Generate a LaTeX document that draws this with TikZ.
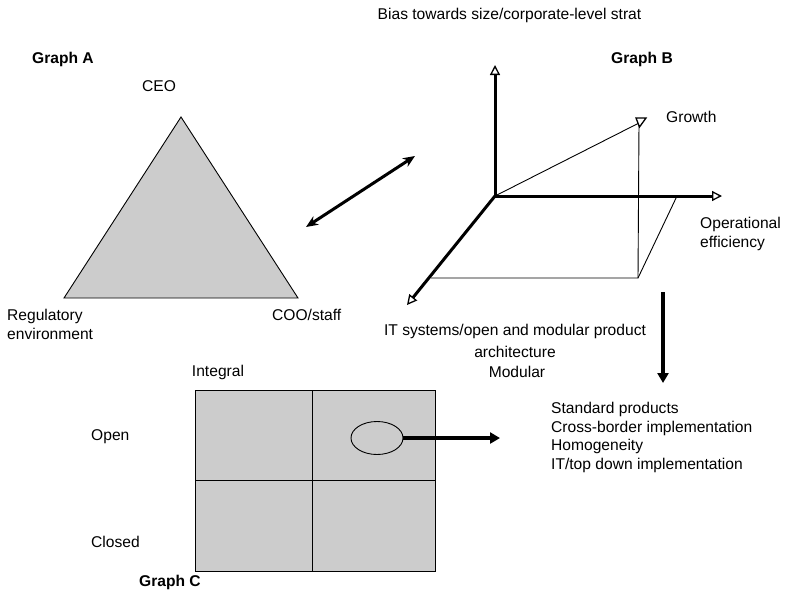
\documentclass[tikz,border=0pt]{standalone}
\usepackage{fontspec}
\setmainfont{Liberation Sans}
\usetikzlibrary{arrows.meta,shapes.geometric}
\definecolor{panelgray}{RGB}{204,204,204}
\tikzset{
  lbl/.style={inner sep=0pt, font=\fontsize{15.6}{18.5}\selectfont},
  title/.style={inner sep=0pt, font=\fontsize{15.6}{18.5}\selectfont\bfseries},
  axis/.style={line width=3pt, -{Triangle[open,length=10pt,width=10pt,line width=1.3pt]}},
  thin/.style={line width=0.9pt},
  fatarrow/.style={line width=3.5pt, -{Triangle[length=10pt,width=11pt]}}
}
\begin{document}
\begin{tikzpicture}[x=1pt,y=-1pt]
  \useasboundingbox (0,0) rectangle (787,600);
  % Top caption
  \node[lbl] (bias) at (509.5,15) {Bias towards size/corporate-level strat};

  % Graph A
  \node[title, anchor=west] (grA) at (32,59) {Graph A};
  \node[lbl] (ceo) at (159,86) {CEO};
  \draw[thin, fill=panelgray] (64,298) -- (181,117) -- (298,298) -- cycle;
  \node[lbl, anchor=north west, align=left] (reg) at (7,309.3) {Regulatory\\environment};
  \node[lbl, anchor=west] (coo) at (272,315) {COO/staff};

  % Link between A and B
  \coordinate (linkA) at (306,227);
  \coordinate (linkB) at (415,156);
  \draw[line width=3pt, {Stealth[length=12pt,width=10pt]}-{Stealth[length=12pt,width=10pt]}] (linkA) -- (linkB);

  % Graph B
  \node[title] (grB) at (642,59) {Graph B};
  \coordinate (orig) at (495,196);
  \coordinate (up) at (495,65);
  \coordinate (right) at (722,196);
  \coordinate (front) at (407,305);
  \coordinate (grow) at (639,123);
  \coordinate (foot) at (638,278);
  \coordinate (pleft) at (431,278);
  \coordinate (pright) at (677,196);
  % Plane and growth vector
  \draw[thin] (pleft) -- (foot) -- (pright);
  \draw[thin] (foot) -- (grow);
  \draw[thin] (orig) -- (grow);
  \draw[line width=1.3pt, fill=white] (636,118) -- (646,118) -- (639.5,127) -- cycle;
  % Axes
  \draw[axis] (orig) -- (up);
  \draw[axis] (orig) -- (right);
  \draw[axis] (orig) -- (front);
  \node[lbl, anchor=west] (growth) at (666,117) {Growth};
  \node[lbl, anchor=north west, align=left] (opeff) at (700,217.3) {Operational\\efficiency};
  \node[lbl, anchor=north, align=center] (itsys) at (515,324.3) {IT systems/open and modular product\\[3pt]architecture};

  % Down arrow to list
  \coordinate (downA) at (663,292);
  \coordinate (downB) at (663,383);
  \draw[fatarrow] (downA) -- (downB);

  % Graph C
  \node[lbl] (integral) at (218,372) {Integral};
  \node[lbl] (modular) at (517,372) {Modular};
  \draw[line width=1pt, fill=panelgray] (195,390) rectangle (435,571);
  \draw[line width=1pt] (312,390) -- (312,571);
  \draw[line width=1pt] (195,480) -- (435,480);
  \node[lbl, anchor=west] (open) at (91,437) {Open};
  \node[lbl, anchor=west] (closed) at (91,542) {Closed};
  \node[title, anchor=west] (grC) at (139,582) {Graph C};
  \node[draw, ellipse, thin, minimum width=52pt, minimum height=33pt, inner sep=0pt] (ell) at (377,438) {};
  \coordinate (listin) at (500,438);
  \draw[fatarrow] (ell.east) -- (listin);

  % Resulting list
  \node[lbl, anchor=north west, align=left] (list) at (551,402.3)
    {Standard products\\Cross-border implementation\\Homogeneity\\IT/top down implementation};
\end{tikzpicture}
\end{document}
